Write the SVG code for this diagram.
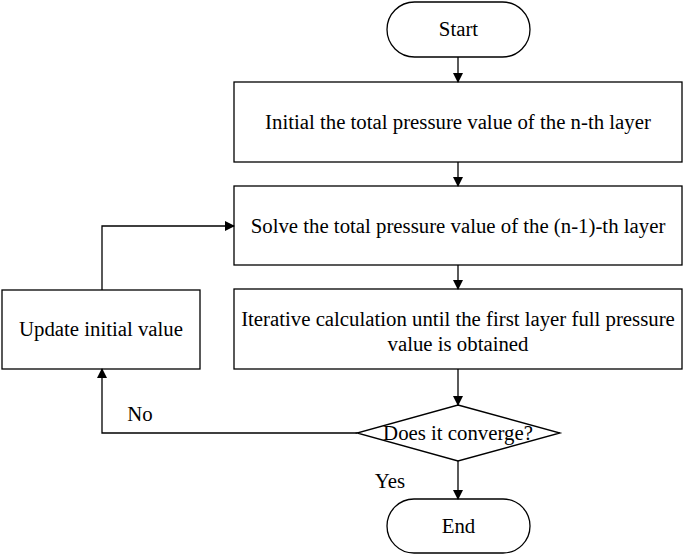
<svg xmlns="http://www.w3.org/2000/svg" width="685" height="556" viewBox="0 0 685 556">
<style>
.s{fill:#fff;stroke:#000;stroke-width:1.3}
text{font-family:"Liberation Serif",serif;font-size:20.8px;fill:#000;text-anchor:middle}
.c{fill:none;stroke:#000;stroke-width:1.3}
</style>
<defs><marker id="a" markerWidth="10" markerHeight="10" refX="9" refY="5" orient="auto" markerUnits="userSpaceOnUse"><path d="M0,0 L10,5 L0,10 Z" fill="#000"/></marker></defs>
<rect width="685" height="556" fill="#fff"/>
<g id="start"><rect class="s" x="387" y="2" width="143" height="55" rx="27.5"/><text x="458.5" y="36">Start</text></g>
<g id="b1"><rect class="s" x="234" y="82" width="448" height="80"/><text x="458" y="129">Initial the total pressure value of the n-th layer</text></g>
<g id="b2"><rect class="s" x="234" y="186" width="448" height="79"/><text x="458" y="233">Solve the total pressure value of the (n-1)-th layer</text></g>
<g id="b3"><rect class="s" x="234" y="289" width="448" height="80"/><text x="458" y="326">Iterative calculation until the first layer full pressure</text><text x="458" y="351">value is obtained</text></g>
<g id="upd"><rect class="s" x="2" y="290" width="198" height="79"/><text x="101" y="336">Update initial value</text></g>
<g id="dec"><polygon class="s" points="458,405 560,433 458,461 357,433"/><text x="458" y="440">Does it converge?</text></g>
<g id="end"><rect class="s" x="387" y="499" width="143" height="54" rx="27"/><text x="458.5" y="533">End</text></g>
<g id="connectors">
<line class="c" x1="458" y1="57" x2="458" y2="82" marker-end="url(#a)"/>
<line class="c" x1="458" y1="162" x2="458" y2="186" marker-end="url(#a)"/>
<line class="c" x1="458" y1="265" x2="458" y2="289" marker-end="url(#a)"/>
<line class="c" x1="458" y1="369" x2="458" y2="405" marker-end="url(#a)"/>
<line class="c" x1="458" y1="461" x2="458" y2="499" marker-end="url(#a)"/>
<polyline class="c" points="357,433 102,433 102,369" marker-end="url(#a)"/>
<polyline class="c" points="102,290 102,226 234,226" marker-end="url(#a)"/>
<text x="140" y="421">No</text>
<text x="390" y="488">Yes</text>
</g>
</svg>
